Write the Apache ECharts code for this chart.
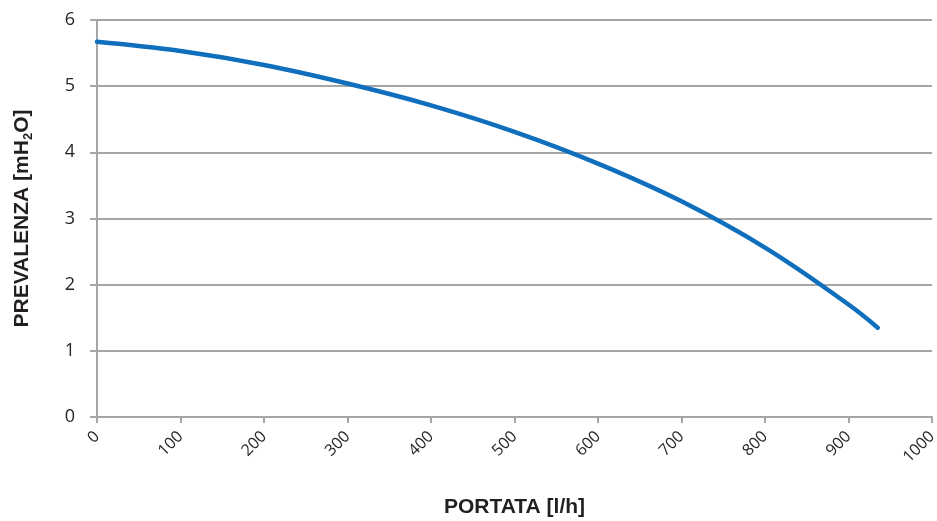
<!DOCTYPE html>
<html>
<head>
<meta charset="utf-8">
<script src="https://cdn.jsdelivr.net/npm/echarts@6/dist/echarts.min.js"></script>
<style>
  html, body { margin: 0; padding: 0; background: #fff; }
  #chart { width: 937px; height: 521px; }
</style>
</head>
<body>
<div id="chart"></div>
<script>
  // portata [l/h] e prevalenza [mH2O]
  const portata = [0, 100, 200, 300, 400, 500, 600, 700, 800, 900, 935];
  const prevalenza = [5.67, 5.53, 5.32, 5.04, 4.71, 4.31, 3.83, 3.26, 2.56, 1.70, 1.35];
  const xTicks = [0, 1000, 100];
  const yTicks = [0, 6, 1];

  let myChart = echarts.init(document.getElementById('chart'));

  let gridColor = '#a6a6a6';
  let labelFont = '"Open Sans", "Noto Sans", sans-serif';
  let titleFont = '"Liberation Sans", Arial, sans-serif';

  myChart.setOption({
    animation: false,
    grid: { left: 97, right: 5, top: 20, bottom: 104, containLabel: false, outerBoundsMode: 'none' },
    xAxis: {
      type: 'value',
      min: xTicks[0], max: xTicks[1], interval: xTicks[2],
      name: 'PORTATA [l/h]',
      nameLocation: 'middle',
      nameGap: 80,
      nameTextStyle: { fontFamily: titleFont, fontWeight: 'bold', fontSize: 21, color: '#231f20' },
      axisLine: { lineStyle: { color: gridColor, width: 2 } },
      axisTick: { show: true, length: 6, lineStyle: { color: gridColor, width: 2 } },
      axisLabel: {
        rotate: 45, margin: 17, fontSize: 16, color: '#262626', fontFamily: labelFont,
        formatter: v => String(v)
      },
      splitLine: { show: false }
    },
    yAxis: {
      type: 'value',
      min: yTicks[0], max: yTicks[1], interval: yTicks[2],
      name: '{a|PREVALENZA [mH}{s|2}{a|O]}',
      nameLocation: 'middle',
      nameGap: 62,
      nameTextStyle: {
        rich: {
          a: { fontFamily: titleFont, fontWeight: 'bold', fontSize: 21, color: '#231f20' },
          s: { fontFamily: titleFont, fontWeight: 'bold', fontSize: 13, color: '#231f20', verticalAlign: 'bottom', padding: [12, 0, 0, 0] }
        }
      },
      axisLine: { show: true, lineStyle: { color: gridColor, width: 2 } },
      axisTick: { show: true, length: 7, lineStyle: { color: gridColor, width: 2 } },
      axisLabel: { margin: 22, fontSize: 18, color: '#262626', fontFamily: labelFont },
      splitLine: { show: true, lineStyle: { color: gridColor, width: 2 } }
    },
    series: [{
      type: 'line',
      data: portata.map((p, i) => [p, prevalenza[i]]),
      smooth: 0.4,
      showSymbol: false,
      lineStyle: { color: '#0f6fbd', width: 4.5, cap: 'round' }
    }]
  });
</script>
</body>
</html>
